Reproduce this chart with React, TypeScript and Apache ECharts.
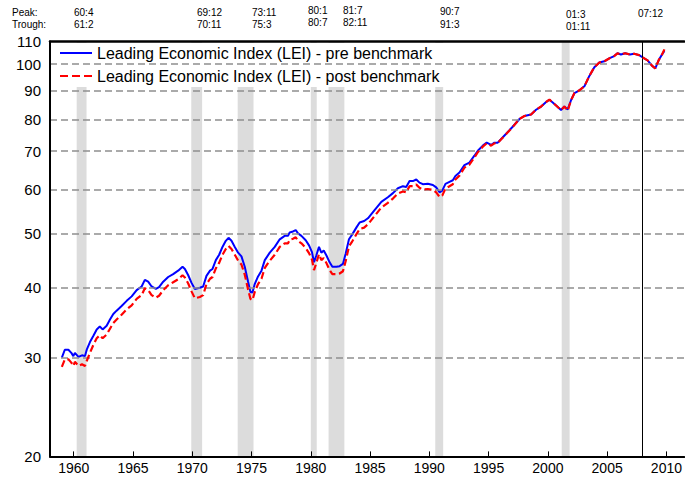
import React, { useEffect, useRef } from "react";
import * as echarts from "echarts";

// ---------- DATA ----------
const years: number[] = [
  1959.0, 1959.25, 1959.55, 1959.8, 1959.97, 1960.1, 1960.4, 1960.7, 1960.95, 1961.1,
  1961.37, 1961.65, 1961.94, 1962.2, 1962.44, 1962.78, 1963.06, 1963.34, 1963.62, 1964.04,
  1964.47, 1964.89, 1965.31, 1965.73, 1966.0, 1966.28, 1966.57, 1966.93, 1967.2, 1967.55,
  1967.97, 1968.39, 1968.81, 1969.18, 1969.38, 1969.66, 1969.94, 1970.22, 1970.64, 1970.92,
  1971.2, 1971.5, 1971.71, 1971.99, 1972.27, 1972.55, 1972.83, 1973.06, 1973.31, 1973.59,
  1973.87, 1974.15, 1974.43, 1974.71, 1974.91, 1975.08, 1975.27, 1975.55, 1975.84, 1976.12,
  1976.54, 1976.96, 1977.38, 1977.8, 1978.08, 1978.22, 1978.5, 1978.73, 1978.92, 1979.21,
  1979.57, 1979.85, 1980.1, 1980.27, 1980.47, 1980.69, 1980.89, 1981.09, 1981.31, 1981.59,
  1981.82, 1982.16, 1982.43, 1982.71, 1982.94, 1983.22, 1983.5, 1983.84, 1984.12, 1984.5,
  1984.82, 1985.38, 1985.95, 1986.5, 1986.93, 1987.35, 1987.77, 1988.05, 1988.33, 1988.61,
  1988.9, 1989.17, 1989.45, 1989.87, 1990.3, 1990.58, 1990.86, 1991.09, 1991.36, 1991.7,
  1991.98, 1992.2, 1992.54, 1992.96, 1993.38, 1993.8, 1994.09, 1994.51, 1994.84, 1995.21,
  1995.49, 1995.77, 1996.06, 1996.48, 1997.03, 1997.6, 1998.02, 1998.58, 1999.0, 1999.43,
  1999.85, 2000.13, 2000.41, 2000.74, 2001.11, 2001.39, 2001.67, 2001.96, 2002.24, 2002.66,
  2003.08, 2003.5, 2003.92, 2004.34, 2004.76, 2005.17, 2005.59, 2005.87, 2006.16, 2006.52,
  2006.92, 2007.28, 2007.7, 2008.04, 2008.41, 2008.78, 2009.06, 2009.34, 2009.63, 2009.83,
];

const preBenchmark: number[] = [
  30.0, 31.0, 31.0, 30.6, 30.2, 30.6, 30.1, 30.3, 30.2, 31.0,
  32.0, 32.8, 33.7, 34.1, 33.7, 34.2, 35.1, 35.9, 36.4, 37.1,
  37.9, 38.6, 39.6, 40.2, 41.3, 41.0, 40.2, 39.8, 40.1, 41.0,
  41.8, 42.3, 42.9, 43.6, 43.2, 42.1, 40.8, 39.8, 40.0, 40.2,
  42.0, 42.9, 43.2, 44.8, 45.8, 47.3, 48.5, 49.1, 48.5, 47.3,
  46.2, 45.5, 43.6, 41.0, 39.3, 39.2, 40.6, 41.9, 42.9, 44.8,
  46.2, 47.3, 48.8, 49.5, 49.5, 50.2, 50.4, 50.7, 50.0, 49.5,
  48.6, 47.6, 46.3, 44.4, 45.7, 47.3, 46.2, 46.6, 45.7, 44.4,
  43.6, 43.6, 43.7, 44.1, 46.0, 48.8, 49.8, 51.2, 52.3, 52.6,
  53.2, 55.0, 56.9, 58.0, 59.0, 60.2, 60.7, 60.5, 62.0, 62.0,
  62.4, 61.6, 61.2, 61.3, 61.0, 60.4, 59.2, 59.6, 61.3, 61.8,
  62.2, 63.3, 64.2, 66.2, 66.9, 68.8, 70.2, 71.7, 72.6, 71.9,
  72.6, 72.6, 73.7, 75.3, 77.5, 80.0, 81.0, 81.5, 83.1, 84.2,
  85.8, 86.6, 85.6, 84.4, 83.0, 84.2, 83.2, 86.5, 89.0, 90.0,
  91.5, 95.5, 99.0, 100.9, 101.4, 102.6, 103.6, 104.8, 104.3, 104.8,
  104.3, 104.6, 104.0, 102.9, 101.8, 99.6, 98.5, 101.8, 104.3, 105.8,
];

const postBenchmark: number[] = [
  28.9, 29.8, 29.8, 29.4, 29.0, 29.5, 29.0, 29.2, 29.0, 29.6,
  30.6, 31.6, 32.5, 32.9, 32.5, 33.0, 33.8, 34.6, 35.1, 35.8,
  36.6, 37.2, 38.2, 38.8, 39.9, 39.6, 38.8, 38.4, 38.7, 39.6,
  40.4, 40.9, 41.4, 42.1, 41.7, 40.7, 39.4, 38.3, 38.5, 38.8,
  40.6, 41.5, 41.8, 43.3, 44.3, 45.8, 46.9, 47.5, 46.9, 45.8,
  44.7, 44.0, 42.2, 39.7, 38.2, 38.0, 39.3, 40.6, 41.5, 43.4,
  44.7, 45.8, 47.3, 48.0, 48.0, 48.7, 48.9, 49.2, 48.5, 48.0,
  47.1, 46.1, 44.9, 43.0, 44.3, 45.9, 44.8, 45.2, 44.3, 43.0,
  42.3, 42.3, 42.4, 42.8, 44.6, 47.4, 48.4, 49.8, 50.9, 51.2,
  51.9, 53.7, 55.6, 56.7, 57.7, 58.9, 59.4, 59.2, 60.7, 60.7,
  61.1, 60.3, 59.9, 60.0, 59.8, 59.2, 58.1, 58.4, 60.1, 60.7,
  61.2, 62.4, 63.4, 65.5, 66.3, 68.3, 69.8, 71.4, 72.4, 71.7,
  72.4, 72.5, 73.6, 75.2, 77.4, 80.0, 81.0, 81.5, 83.1, 84.2,
  85.8, 86.6, 85.6, 84.4, 83.0, 84.2, 82.8, 86.5, 89.0, 90.0,
  91.5, 95.5, 99.0, 100.9, 101.4, 102.6, 103.6, 104.8, 104.3, 104.8,
  104.3, 104.6, 104.0, 102.9, 101.8, 99.6, 98.5, 101.8, 104.3, 106.5,
];

const peakLabels: string[] = ["60:4", "69:12", "73:11", "80:1", "81:7", "90:7", "01:3"];
const troughLabels: string[] = ["61:2", "70:11", "75:3", "80:7", "82:11", "91:3", "01:11"];
const lastPeakLabel = "07:12";

const yTickValues: number[] = [20, 30, 40, 50, 60, 70, 80, 90, 100, 110];
const xTickValues: number[] = [1960, 1965, 1970, 1975, 1980, 1985, 1990, 1995, 2000, 2005, 2010];

const seriesNames: string[] = [
  "Leading Economic Index (LEI) - pre benchmark",
  "Leading Economic Index (LEI) - post benchmark",
];

// ---------- LAYOUT (annotation text positions) ----------
const annX: number[] = [74, 197, 252, 308, 343, 440, 566];
const annPeakY: number[] = [12, 12, 12, 10, 10, 11, 14];
const annTroughY: number[] = [24, 24, 24, 22, 22, 24, 26];
const lastPeakPos = { x: 638, y: 13 };

const FONT = "'Liberation Sans', Arial, Helvetica, sans-serif";

const SOLID_ICON = "path://M0 0H32V2H0Z";
const DASH_ICON = "path://M0 0H8V2H0ZM12 0H20V2H12ZM24 0H32V2H24Z";

function toYear(label: string): number {
  const [yy, mm] = label.split(":").map(Number);
  const y = yy < 30 ? 2000 + yy : 1900 + yy;
  return y + (mm - 1) / 12;
}

export default function App() {
  const ref = useRef<HTMLDivElement>(null);

  useEffect(() => {
    if (!ref.current) return;
    const chart = echarts.init(ref.current, undefined, { renderer: "svg" });

    const pre = years.map((x, i) => [x, Math.log(preBenchmark[i])]);
    const post = years.map((x, i) => [x, Math.log(postBenchmark[i])]);
    const bands = peakLabels.map((p, i) => [
      { xAxis: toYear(p) },
      { xAxis: toYear(troughLabels[i]) },
    ]);

    const txt = (text: string, x: number, y: number) => ({
      type: "text",
      x,
      y,
      silent: true,
      style: { text, font: `10px ${FONT}`, fill: "#000", verticalAlign: "middle" },
    });

    const graphics: any[] = [
      {
        type: "rect",
        shape: { x: 57, y: 43, width: 396, height: 44 },
        style: { fill: "#ffffff" },
        z: 2,
        silent: true,
      },
      txt("Peak:", 12, 12),
      txt("Trough:", 12, 24),
    ];
    peakLabels.forEach((p, i) => {
      graphics.push(txt(p, annX[i], annPeakY[i]));
      graphics.push(txt(troughLabels[i], annX[i], annTroughY[i]));
    });
    graphics.push(txt(lastPeakLabel, lastPeakPos.x, lastPeakPos.y));

    chart.setOption({
      animation: false,
      backgroundColor: "#ffffff",
      textStyle: { fontFamily: FONT },
      grid: { left: 50, right: 0, top: 41.5, bottom: 28.6, containLabel: false },
      legend: {
        data: [
          { name: seriesNames[0], icon: SOLID_ICON, itemStyle: { color: "#0000ff" } },
          { name: seriesNames[1], icon: DASH_ICON, itemStyle: { color: "#ff0000" } },
        ],
        orient: "vertical",
        left: 60,
        top: 45,
        padding: 0,
        itemWidth: 32,
        itemHeight: 16,
        itemGap: 7,
        z: 6,
        selectedMode: false,
        textStyle: { fontSize: 16, color: "#000", fontFamily: FONT, lineHeight: 16 },
      },
      xAxis: [
        {
          type: "value",
          min: 1958,
          max: 2011.5,
          z: 10,
          axisLine: { show: true, lineStyle: { color: "#000", width: 2 } },
          axisTick: { show: true, inside: true, length: 5, customValues: xTickValues, lineStyle: { color: "#000", width: 1 } },
          axisLabel: { customValues: xTickValues, fontSize: 14, color: "#000", margin: 5, fontFamily: FONT, formatter: (v: number) => String(Math.round(v)) },
          splitLine: { show: false },
        },
        {
          type: "value",
          position: "top",
          min: 1958,
          max: 2011.5,
          z: 10,
          axisLine: { show: true, lineStyle: { color: "#000", width: 2.5 } },
          axisTick: { show: false },
          axisLabel: { show: false },
          splitLine: { show: false },
        },
      ],
      yAxis: {
        type: "value",
        min: Math.log(20),
        max: Math.log(110),
        z: 10,
        axisLine: { show: true, lineStyle: { color: "#000", width: 2 } },
        axisTick: { show: false },
        axisLabel: {
          customValues: yTickValues.map((v) => Math.log(v)),
          fontSize: 15,
          color: "#000",
          margin: 9,
          fontFamily: FONT,
          formatter: (v: number) => String(Math.round(Math.exp(v))),
        },
        splitLine: { show: false },
      },
      graphic: graphics,
      series: [
        {
          name: "gridlines",
          type: "line",
          data: [[1958, Math.log(20)]],
          symbol: "none",
          lineStyle: { opacity: 0 },
          silent: true,
          z: 1,
          markLine: {
            silent: true,
            symbol: "none",
            label: { show: false },
            lineStyle: { color: "#8f8f8f", width: 1.5, type: [7, 4] },
            data: yTickValues.slice(1, -1).map((v) => ({ yAxis: Math.log(v) })),
          },
        },
        {
          name: "recessions",
          type: "line",
          data: [[1958, Math.log(20)]],
          symbol: "none",
          lineStyle: { opacity: 0 },
          silent: true,
          z: 3,
          markArea: {
            silent: true,
            itemStyle: { color: "#dcdcdc" },
            data: bands,
          },
          markLine: {
            silent: true,
            symbol: "none",
            label: { show: false },
            lineStyle: { color: "#000", width: 1, type: "solid" },
            data: [{ xAxis: toYear(lastPeakLabel) }],
          },
        },
        {
          name: seriesNames[0],
          type: "line",
          data: pre,
          symbol: "none",
          z: 4,
          lineStyle: { color: "#0000ff", width: 2 },
          itemStyle: { color: "#0000ff" },
        },
        {
          name: seriesNames[1],
          type: "line",
          data: post,
          symbol: "none",
          z: 5,
          lineStyle: { color: "#ff0000", width: 2.2, type: [7, 3.5] },
          itemStyle: { color: "#ff0000" },
        },
      ],
    });

    return () => chart.dispose();
  }, []);

  return (
    <div
      ref={ref}
      style={{ position: "fixed", left: 0, top: 0, width: 685, height: 485, background: "#fff" }}
    />
  );
}
